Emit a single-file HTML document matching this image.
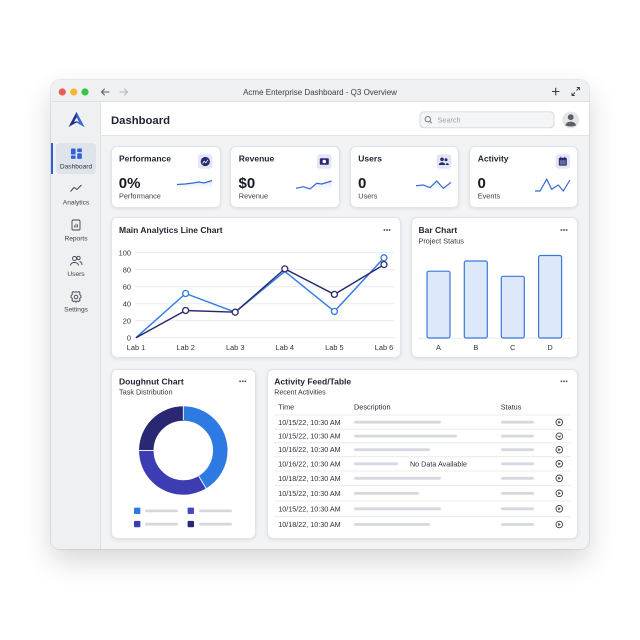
<!DOCTYPE html>
<html><head><meta charset="utf-8">
<style>
html,body{margin:0;padding:0;width:640px;height:640px;overflow:hidden;background:#ffffff;font-family:"Liberation Sans",sans-serif;}
.abs{position:absolute;}
.win{left:51px;top:80px;width:538px;height:469px;background:#f1f3f5;border-radius:9px;box-shadow:0 12px 28px rgba(0,0,0,0.16),0 0 0 1px rgba(0,0,0,0.07);overflow:hidden;}
.tb{left:0;top:0;width:538px;height:21px;background:#eef0f2;border-bottom:1px solid #dcdfe3;}
.sb{left:0;top:22px;width:49px;height:447px;background:#eef0f2;border-right:1px solid #dde0e4;}
.hd{left:50px;top:22px;width:488px;height:33px;background:#ffffff;border-bottom:1px solid #e0e3e7;}
.card{position:absolute;background:#fff;border:1px solid #e0e3e7;border-radius:6px;box-shadow:0 1px 3px rgba(20,30,50,0.09);box-sizing:border-box;}
svg{position:absolute;left:0;top:0;}
</style></head><body>
<div class="abs win">
  <div class="abs tb"></div>
  <div class="abs sb"></div>
  <div class="abs hd"></div>
</div>
<div class="abs" style="left:56px;top:143px;width:40px;height:31px;background:#dfe3ea;border-radius:4px;"></div>
<div class="abs" style="left:51px;top:143px;width:2px;height:31px;background:#2f5fd0;"></div>

<div class="card" style="left:111px;top:146px;width:110px;height:62px;"></div>
<div class="card" style="left:230px;top:146px;width:110px;height:62px;"></div>
<div class="card" style="left:350px;top:146px;width:109px;height:62px;"></div>
<div class="card" style="left:469px;top:146px;width:109px;height:62px;"></div>
<div class="card" style="left:111px;top:217px;width:290px;height:141px;"></div>
<div class="card" style="left:411px;top:217px;width:167px;height:141px;"></div>
<div class="card" style="left:111px;top:369px;width:145px;height:170px;"></div>
<div class="card" style="left:267px;top:369px;width:311px;height:170px;"></div>

<svg width="640" height="640" viewBox="0 0 640 640" font-family="Liberation Sans, sans-serif">
<defs>
<linearGradient id="sp" x1="0" y1="0" x2="0" y2="1"><stop offset="0" stop-color="#c9d8f5" stop-opacity="0.7"/><stop offset="1" stop-color="#ffffff" stop-opacity="0"/></linearGradient>
</defs>
<!-- title bar -->
<circle cx="62.3" cy="92" r="3.6" fill="#ee5d55"/>
<circle cx="73.7" cy="92" r="3.6" fill="#f4b731"/>
<circle cx="85" cy="92" r="3.6" fill="#35c648"/>
<g stroke="#555b63" stroke-width="1" fill="none" stroke-linecap="round"><path d="M109 92H101.5M104.5 89L101.5 92L104.5 95"/></g>
<g stroke="#b0b5bb" stroke-width="1" fill="none" stroke-linecap="round"><path d="M120 92H127.5M124.5 89L127.5 92L124.5 95"/></g>
<text x="320" y="94.8" text-anchor="middle" font-size="8" fill="#3a3f47">Acme Enterprise Dashboard - Q3 Overview</text>
<g stroke="#3a3f47" stroke-width="1.1" fill="none"><path d="M555.7 87.8V95.2M552 91.5H559.4"/></g>
<g stroke="#3a3f47" stroke-width="0.9" fill="none"><path d="M572 95.5L575 92.5M572 92.8V95.5H574.7M579.5 87.5L576.5 90.5M576.8 87.5H579.5V90.2"/></g>

<!-- sidebar -->
<polygon points="76.5,112 84.5,127 76.5,122.5 68.5,127" fill="#2a2d86"/>
<polygon points="76.5,112 84.5,127 76.5,122.5" fill="#3a6ad8"/>
<polygon points="76.5,117.5 79,122 76.5,121 74,122" fill="#ffffff"/>
<g fill="#2f62d6">
<rect x="71" y="148.5" width="4.6" height="6" rx="0.8"/>
<rect x="77.2" y="148.5" width="4.6" height="3.6" rx="0.8"/>
<rect x="71" y="155.5" width="4.6" height="3.4" rx="0.8"/>
<rect x="77.2" y="153.2" width="4.6" height="5.7" rx="0.8"/>
</g>
<text x="76" y="168.3" text-anchor="middle" font-size="6.6" fill="#2a3140">Dashboard</text>
<polyline points="70.5,191.5 74,187.5 77,189.5 81.5,185" fill="none" stroke="#3c4350" stroke-width="1"/>
<text x="76" y="204.3" text-anchor="middle" font-size="6.6" fill="#3c4350">Analytics</text>
<rect x="72" y="220" width="8" height="10" rx="1.3" fill="none" stroke="#3c4350" stroke-width="0.9"/>
<path d="M74.5 227.5V225.5M76 227.5V223.5M77.5 227.5V224.5" stroke="#3c4350" stroke-width="0.8"/>
<text x="76" y="240.3" text-anchor="middle" font-size="6.6" fill="#3c4350">Reports</text>
<g fill="none" stroke="#3c4350" stroke-width="0.9"><circle cx="74.5" cy="258.5" r="2"/><circle cx="78.5" cy="258" r="1.7"/><path d="M70.5 265.5C70.5 261.5 78.5 261.5 78.5 265.5M79.5 261.5C81.5 261.8 82 263.5 82 265"/></g>
<text x="76" y="275.8" text-anchor="middle" font-size="6.6" fill="#3c4350">Users</text>
<g fill="none" stroke="#3c4350" stroke-width="0.9"><circle cx="76" cy="297" r="1.8"/><path d="M76 291.7L77.3 292.3L78.9 291.6L80 292.8L79.6 294.4L80.9 295.6V297.5L79.6 298.6L80 300.3L78.8 301.5L77.2 300.9L76 302.3L74.8 300.9L73.2 301.5L72 300.3L72.4 298.6L71.1 297.5V295.6L72.4 294.4L72 292.8L73.1 291.6L74.7 292.3Z"/></g>
<text x="76" y="311.6" text-anchor="middle" font-size="6.6" fill="#3c4350">Settings</text>

<!-- header -->
<text x="111" y="124.2" font-size="11.3" font-weight="bold" fill="#1d2330">Dashboard</text>
<rect x="420" y="111.8" width="134" height="16" rx="4" fill="#f4f5f7" stroke="#d3d7dc" stroke-width="0.9"/>
<circle cx="427.8" cy="119.2" r="2.7" fill="none" stroke="#6b717a" stroke-width="0.9"/>
<path d="M429.8 121.2L431.8 123.2" stroke="#6b717a" stroke-width="0.9"/>
<text x="437.5" y="122.4" font-size="7.3" fill="#9aa1ab">Search</text>
<circle cx="570.7" cy="120" r="8.4" fill="#e3e5e8"/>
<circle cx="570.7" cy="117.2" r="2.9" fill="#5b6068"/>
<path d="M565.5 125.5C565.5 120.5 575.9 120.5 575.9 125.5Q570.7 127.5 565.5 125.5Z" fill="#5b6068"/>

<!-- KPI cards -->
<g font-size="8.5" font-weight="bold" fill="#1e2430">
<text x="119" y="161.3">Performance</text>
<text x="238.8" y="161.3">Revenue</text>
<text x="358.3" y="161.3">Users</text>
<text x="477.8" y="161.3">Activity</text>
</g>
<g font-size="15" font-weight="bold" fill="#151a24">
<text x="118.8" y="187.8">0%</text>
<text x="238.5" y="187.8">$0</text>
<text x="358" y="187.8">0</text>
<text x="477.5" y="187.8">0</text>
</g>
<g font-size="7.3" fill="#3a404a">
<text x="119" y="198.6">Performance</text>
<text x="238.8" y="198.6">Revenue</text>
<text x="358.3" y="198.6">Users</text>
<text x="477.8" y="198.6">Events</text>
</g>
<g fill="#e4e6f6">
<rect x="198" y="154.2" width="14.6" height="14.6" rx="3"/>
<rect x="317" y="154.2" width="14.6" height="14.6" rx="3"/>
<rect x="436.7" y="154.2" width="14.6" height="14.6" rx="3"/>
<rect x="555.5" y="154.2" width="14.6" height="14.6" rx="3"/>
</g>
<circle cx="205.3" cy="161.5" r="4.6" fill="#282a74"/>
<path d="M202.5 163.5L204.2 161.2L205.8 162.8L208 159.8" fill="none" stroke="#fff" stroke-width="0.8"/>
<rect x="319.8" y="158.3" width="9" height="6.4" rx="0.8" fill="#282a74"/>
<circle cx="324.3" cy="161.5" r="1.8" fill="#fff"/>
<g fill="#282a74"><circle cx="442" cy="159.3" r="1.8"/><circle cx="446" cy="159.8" r="1.5"/><path d="M438.8 165C438.8 161.5 445.2 161.5 445.2 165Z"/><path d="M445.8 165C445.8 162.5 448.8 162.5 448.8 165Z"/></g>
<rect x="558.8" y="157.8" width="8" height="7.8" rx="1" fill="#282a74"/>
<rect x="559.8" y="160.2" width="6" height="4.4" fill="#e4e6f6" opacity="0.35"/>
<path d="M560.8 156.8V158.6M564.8 156.8V158.6" stroke="#282a74" stroke-width="0.9"/>

<!-- sparklines -->
<path d="M177 184.5L185 184L193 183L199 182L204 183L212 180.5V192H177Z" fill="url(#sp)"/>
<polyline points="177,184.5 185,184 193,183 199,182 204,183 212,180.5" fill="none" stroke="#3568d4" stroke-width="1.2"/>
<path d="M296 188.3L303.3 186.7L310 189L316.7 183.3L321.7 184L331.7 181V194H296Z" fill="url(#sp)"/>
<polyline points="296,188.3 303.3,186.7 310,189 316.7,183.3 321.7,184 331.7,181" fill="none" stroke="#3568d4" stroke-width="1.2"/>
<path d="M416 185.7L423.3 185L430 187.7L436.7 181L443.3 188.3L451 182.3V194H416Z" fill="url(#sp)"/>
<polyline points="416,185.7 423.3,185 430,187.7 436.7,181 443.3,188.3 451,182.3" fill="none" stroke="#3568d4" stroke-width="1.2"/>
<polyline points="535,191 540,191 546.7,179.3 551.7,189.3 558.3,185 563.3,191 570,180" fill="none" stroke="#3568d4" stroke-width="1.2"/>

<!-- menu dots -->
<g fill="#555b63">
<circle cx="384.4" cy="230" r="0.95"/><circle cx="387" cy="230" r="0.95"/><circle cx="389.6" cy="230" r="0.95"/>
<circle cx="561.4" cy="230" r="0.95"/><circle cx="564" cy="230" r="0.95"/><circle cx="566.6" cy="230" r="0.95"/>
<circle cx="240.1" cy="381.3" r="0.95"/><circle cx="242.7" cy="381.3" r="0.95"/><circle cx="245.3" cy="381.3" r="0.95"/>
<circle cx="561.4" cy="381.3" r="0.95"/><circle cx="564" cy="381.3" r="0.95"/><circle cx="566.6" cy="381.3" r="0.95"/>
</g>

<!-- line chart -->
<text x="119" y="233" font-size="8.5" font-weight="bold" fill="#1e2430">Main Analytics Line Chart</text>
<g stroke="#e6e8ec" stroke-width="0.8">
<line x1="135" y1="252.7" x2="394" y2="252.7"/><line x1="135" y1="269.7" x2="394" y2="269.7"/>
<line x1="135" y1="286.7" x2="394" y2="286.7"/><line x1="135" y1="303.7" x2="394" y2="303.7"/>
<line x1="135" y1="320.7" x2="394" y2="320.7"/><line x1="135" y1="337.7" x2="394" y2="337.7"/>
</g>
<g font-size="7.4" fill="#2f343c" text-anchor="end">
<text x="131" y="255.3">100</text><text x="131" y="272.3">80</text><text x="131" y="289.3">60</text>
<text x="131" y="306.3">40</text><text x="131" y="323.3">20</text><text x="131" y="340.3">0</text>
</g>
<g font-size="7.4" fill="#2f343c" text-anchor="middle">
<text x="136" y="350">Lab 1</text><text x="185.6" y="350">Lab 2</text><text x="235.2" y="350">Lab 3</text>
<text x="284.8" y="350">Lab 4</text><text x="334.4" y="350">Lab 5</text><text x="384" y="350">Lab 6</text>
</g>
<polyline points="136,337.7 185.6,293.5 235.2,312.2 284.8,271.4 334.4,311.4 384,257.8" fill="none" stroke="#2f7ae5" stroke-width="1.4"/>
<polyline points="136,337.7 185.6,310.5 235.2,312.2 284.8,268.9 334.4,294.4 384,264.6" fill="none" stroke="#28286e" stroke-width="1.4"/>
<g fill="#fff" stroke="#2f7ae5" stroke-width="1.3">
<circle cx="185.6" cy="293.5" r="3"/><circle cx="334.4" cy="311.4" r="3"/><circle cx="384" cy="257.8" r="3"/>
</g>
<g fill="#fff" stroke="#28286e" stroke-width="1.3">
<circle cx="185.6" cy="310.5" r="3"/><circle cx="235.2" cy="312.2" r="3"/><circle cx="284.8" cy="268.9" r="3"/>
<circle cx="334.4" cy="294.4" r="3"/><circle cx="384" cy="264.6" r="3"/>
</g>

<!-- bar chart -->
<text x="418.5" y="233" font-size="8.5" font-weight="bold" fill="#1e2430">Bar Chart</text>
<text x="418.5" y="243.6" font-size="7.3" fill="#2f343c">Project Status</text>
<line x1="418" y1="338.2" x2="570" y2="338.2" stroke="#e3e6ea" stroke-width="0.8"/>
<g fill="#dde8fa" stroke="#3b78d8" stroke-width="1.2">
<rect x="427" y="271.2" width="23" height="66.8" rx="1.8"/>
<rect x="464.3" y="261" width="23" height="77" rx="1.8"/>
<rect x="501.3" y="276.3" width="23" height="61.7" rx="1.8"/>
<rect x="538.6" y="255.5" width="23" height="82.5" rx="1.8"/>
</g>
<g font-size="7.4" fill="#2f343c" text-anchor="middle">
<text x="438.5" y="350">A</text><text x="475.8" y="350">B</text><text x="512.8" y="350">C</text><text x="550.1" y="350">D</text>
</g>

<!-- doughnut -->
<text x="119" y="384.3" font-size="8.5" font-weight="bold" fill="#1e2430">Doughnut Chart</text>
<text x="119" y="394.6" font-size="7.3" fill="#2f343c">Task Distribution</text>
<g transform="rotate(-90 183.3 450.5)" fill="none" stroke-width="14.5">
<circle cx="183.3" cy="450.5" r="37" stroke="#2d7be2" stroke-dasharray="96.22 300"/>
<circle cx="183.3" cy="450.5" r="37" stroke="#3c3db2" stroke-dasharray="78.14 300" stroke-dashoffset="-96.22"/>
<circle cx="183.3" cy="450.5" r="37" stroke="#2a2872" stroke-dasharray="58.12 300" stroke-dashoffset="-174.36"/>
</g>
<g stroke="#fff" stroke-width="0.9">
<line x1="183.3" y1="420" x2="183.3" y2="405"/>
<line x1="138" y1="450.5" x2="154" y2="450.5"/>
<line x1="198.8" y1="476.2" x2="206.2" y2="488.6"/>
</g>
<rect x="134" y="507.6" width="6.4" height="6.4" rx="1" fill="#2d7be2"/>
<rect x="134" y="520.9" width="6.4" height="6.4" rx="1" fill="#3c3db2"/>
<rect x="187.6" y="507.6" width="6.4" height="6.4" rx="1" fill="#4548c2"/>
<rect x="187.6" y="520.9" width="6.4" height="6.4" rx="1" fill="#2a2872"/>
<g fill="#d5d9df">
<rect x="145" y="509.5" width="33" height="2.8" rx="1.4"/>
<rect x="145" y="522.8" width="33" height="2.8" rx="1.4"/>
<rect x="199" y="509.5" width="33" height="2.8" rx="1.4"/>
<rect x="199" y="522.8" width="33" height="2.8" rx="1.4"/>
</g>

<!-- table -->
<text x="274.3" y="384.3" font-size="8.5" font-weight="bold" fill="#1e2430">Activity Feed/Table</text>
<text x="274.3" y="394.3" font-size="7" fill="#2f343c">Recent Activities</text>
<g font-size="7.3" fill="#2a2f3a">
<text x="278.3" y="409.6">Time</text><text x="354" y="409.6">Description</text><text x="500.7" y="409.6">Status</text>
</g>
<g stroke="#e6e8ec" stroke-width="0.8">
<line x1="274" y1="415" x2="571" y2="415"/><line x1="274" y1="429.3" x2="571" y2="429.3"/>
<line x1="274" y1="442.8" x2="571" y2="442.8"/><line x1="274" y1="456.7" x2="571" y2="456.7"/>
<line x1="274" y1="471" x2="571" y2="471"/><line x1="274" y1="485.7" x2="571" y2="485.7"/>
<line x1="274" y1="501" x2="571" y2="501"/><line x1="274" y1="516.7" x2="571" y2="516.7"/>
</g>
<g font-size="7.2" fill="#2a2f3a">
<text x="278.3" y="424.8">10/15/22, 10:30 AM</text>
<text x="278.3" y="438.7">10/15/22, 10:30 AM</text>
<text x="278.3" y="452.2">10/16/22, 10:30 AM</text>
<text x="278.3" y="466.3">10/16/22, 10:30 AM</text>
<text x="278.3" y="480.8">10/18/22, 10:30 AM</text>
<text x="278.3" y="495.8">10/15/22, 10:30 AM</text>
<text x="278.3" y="511.3">10/15/22, 10:30 AM</text>
<text x="278.3" y="527">10/18/22, 10:30 AM</text>
</g>
<text x="438.5" y="466.3" font-size="7.2" fill="#2a2f3a" text-anchor="middle">No Data Available</text>
<g fill="#d5d9df">
<rect x="354" y="420.8" width="87" height="2.8" rx="1.4"/>
<rect x="354" y="434.7" width="103" height="2.8" rx="1.4"/>
<rect x="354" y="448.3" width="76" height="2.8" rx="1.4"/>
<rect x="354" y="462.4" width="44" height="2.8" rx="1.4"/>
<rect x="354" y="476.9" width="87" height="2.8" rx="1.4"/>
<rect x="354" y="491.9" width="65" height="2.8" rx="1.4"/>
<rect x="354" y="507.4" width="87" height="2.8" rx="1.4"/>
<rect x="354" y="523.1" width="76" height="2.8" rx="1.4"/>
<rect x="501" y="420.8" width="33" height="2.8" rx="1.4"/>
<rect x="501" y="434.7" width="33" height="2.8" rx="1.4"/>
<rect x="501" y="448.3" width="33" height="2.8" rx="1.4"/>
<rect x="501" y="462.4" width="33" height="2.8" rx="1.4"/>
<rect x="501" y="476.9" width="33" height="2.8" rx="1.4"/>
<rect x="501" y="491.9" width="33" height="2.8" rx="1.4"/>
<rect x="501" y="507.4" width="33" height="2.8" rx="1.4"/>
<rect x="501" y="523.1" width="33" height="2.8" rx="1.4"/>
</g>
<g fill="none" stroke="#3a3f48" stroke-width="0.9">
<circle cx="559.3" cy="422.3" r="3.3"/><circle cx="559.3" cy="436.2" r="3.3"/><circle cx="559.3" cy="449.7" r="3.3"/>
<circle cx="559.3" cy="463.8" r="3.3"/><circle cx="559.3" cy="478.3" r="3.3"/><circle cx="559.3" cy="493.3" r="3.3"/>
<circle cx="559.3" cy="508.8" r="3.3"/><circle cx="559.3" cy="524.5" r="3.3"/>
</g>
<g fill="#3a3f48">
<path d="M558.3 420.7V423.9L560.9 422.3Z"/>
<path d="M558.3 448.1V451.3L560.9 449.7Z"/>
<path d="M558.3 462.2V465.4L560.9 463.8Z"/>
<path d="M558.3 476.7V479.9L560.9 478.3Z"/>
<path d="M558.3 491.7V494.9L560.9 493.3Z"/>
<path d="M558.3 507.2V510.4L560.9 508.8Z"/>
<path d="M558.3 522.9V526.1L560.9 524.5Z"/>
</g>
<path d="M557.8 435.6L559.3 437.1L560.8 435.6" fill="none" stroke="#3a3f48" stroke-width="0.9"/>
</svg>
</body></html>
